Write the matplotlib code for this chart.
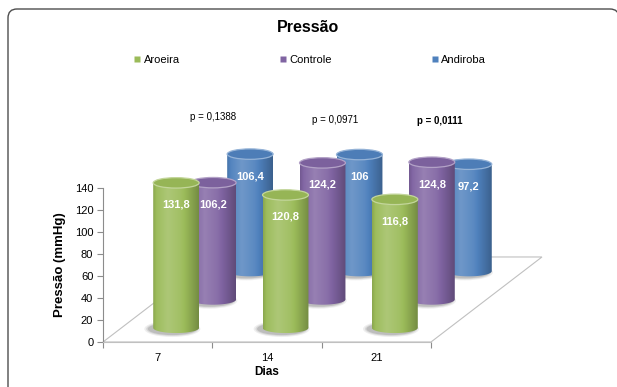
import numpy as np
import matplotlib
matplotlib.use("Agg")
import matplotlib.pyplot as plt
from matplotlib.patches import Ellipse, Polygon, PathPatch
from matplotlib.path import Path
from matplotlib.lines import Line2D
import matplotlib.colors as mcolors

plt.rcParams['font.family'] = ['Liberation Sans', 'DejaVu Sans']

# ---------------- data ----------------
title = "Pressão"
days = ["7", "14", "21"]
series_names = ["Aroeira", "Controle", "Andiroba"]
aroeira = [131.8, 120.8, 116.8]
controle = [106.2, 124.2, 124.8]
andiroba = [106.4, 106.0, 97.2]
p_values = ["p = 0,1388", "p = 0,0971", "p = 0,0111"]
p_bold = [False, False, True]
y_ticks = [0, 20, 40, 60, 80, 100, 120, 140]
xlabel = "Dias"
ylabel = "Pressão (mmHg)"

series_values = [aroeira, controle, andiroba]
colors = ["#9BBB59", "#8064A2", "#4F81BD"]

# ---------------- style / layout ----------------
W, H = 617, 387
fig = plt.figure(figsize=(W / 100, H / 100), dpi=100)
fig.patch.set_facecolor("white")

ax = fig.add_axes([103 / W, (H - 342) / H, 328 / W, 154 / H])
ax.set_facecolor("none")

DEPTH_X = 1.015   # depth direction in category units
DEPTH_Y = 77.3    # depth direction in value units
BAR_W = 0.42      # cylinder diameter in category units
ELL_H = 9.5       # ellipse height in value units
LABEL_DROP = 20.0

def shade(color, f):
    rgb = np.array(mcolors.to_rgb(color))
    if f >= 1:
        return rgb + (1 - rgb) * (f - 1)
    return rgb * f

def gradient_row(color, n=64):
    t = np.linspace(0, 1, n)
    f = np.interp(t, [0, 0.08, 0.32, 0.6, 0.88, 1.0],
                  [0.9, 1.03, 1.18, 1.07, 0.85, 0.75])
    return np.array([shade(color, fi) for fi in f])[None, :, :]

floor_col = "#c0c0c0"
floor = Polygon([(0, 0), (3, 0), (3 + DEPTH_X, DEPTH_Y), (DEPTH_X, DEPTH_Y)],
                closed=True, facecolor="white", edgecolor=floor_col, lw=0.8,
                clip_on=False, zorder=1)
ax.add_patch(floor)

n_s = len(series_values)
for s in range(n_s - 1, -1, -1):
    vals = series_values[s]
    col = colors[s]
    frac = (s + 0.5) / n_s
    z = 10 + (n_s - s) * 5
    for i, v in enumerate(vals):
        cx = i + 0.5 + frac * DEPTH_X
        base = frac * DEPTH_Y
        top = base + v
        x0, x1 = cx - BAR_W / 2, cx + BAR_W / 2
        # soft shadow
        for k, a in zip([1.55, 1.35, 1.18], [0.10, 0.15, 0.22]):
            ax.add_patch(Ellipse((cx - 0.035, base - 1.0), BAR_W * (1 + (k - 1) * 0.4),
                                 ELL_H * k, facecolor="#606060", edgecolor="none",
                                 alpha=a, clip_on=False, zorder=z - 1))
        # body clip path
        t = np.linspace(np.pi, 2 * np.pi, 60)
        bx = cx + BAR_W / 2 * np.cos(t)
        by = base + ELL_H / 2 * np.sin(t)
        verts = [(x0, top)] + list(zip(bx, by)) + [(x1, top), (x0, top)]
        clip = PathPatch(Path(verts, closed=True), transform=ax.transData,
                         facecolor="none", edgecolor="none")
        im = ax.imshow(gradient_row(col), extent=[x0, x1, base - ELL_H, top],
                       aspect="auto", interpolation="bilinear", zorder=z,
                       origin="lower")
        im.set_clip_path(clip)
        im.set_clip_box(fig.bbox)
        # top ellipse
        ax.add_patch(Ellipse((cx, top), BAR_W, ELL_H,
                             facecolor=shade(col, 0.97),
                             edgecolor=shade(col, 1.4), lw=0.9,
                             clip_on=False, zorder=z + 1))
        # value label
        ax.text(cx, top - LABEL_DROP, f"{v:g}".replace(".", ","),
                ha="center", va="center", color="white", fontsize=8,
                fontweight="bold", zorder=z + 2, clip_on=False)

ax.set_xlim(0, 3)
ax.set_ylim(0, 140)
ax.set_aspect("auto")

for sp in ["top", "right"]:
    ax.spines[sp].set_visible(False)
ax.spines["left"].set_color("#8c8c8c")
ax.spines["bottom"].set_color(floor_col)
ax.spines["left"].set_linewidth(0.8)
ax.spines["bottom"].set_linewidth(0.8)

ax.set_yticks(y_ticks)
ax.set_yticklabels([str(v) for v in y_ticks])
ax.tick_params(axis="y", length=4, width=0.8, color="#8c8c8c", labelsize=8, pad=3)
ax.set_xticks([0, 1, 2, 3])
ax.set_xticklabels([])
ax.tick_params(axis="x", which="major", length=4, width=0.8, color="#8c8c8c")
ax.set_xticks([0.5, 1.5, 2.5], minor=True)
ax.set_xticklabels(days, minor=True)
ax.tick_params(axis="x", which="minor", length=0, labelsize=8, pad=8)

ax.set_xlabel(xlabel, fontsize=8.5, fontweight="bold", labelpad=2)
ax.set_ylabel(ylabel, fontsize=9.5, fontweight="bold", labelpad=6)

fig.text(308 / W, 1 - 27 / H, title, ha="center", va="center",
         fontsize=11.5, fontweight="bold")

handles = [Line2D([], [], marker="s", linestyle="none", markersize=4,
                  markerfacecolor=c, markeredgecolor="none") for c in colors]
fig.legend(handles, series_names, loc="center", bbox_to_anchor=(310 / W, 1 - 60 / H),
           ncol=3, frameon=False, fontsize=8, handlelength=0.6,
           handletextpad=0.25, columnspacing=9.0)

p_pos = [(213, 117), (335, 120), (440, 121)]
for (px, py), txt, b in zip(p_pos, p_values, p_bold):
    fig.text(px / W, 1 - py / H, txt, ha="center", va="center", fontsize=7,
             fontweight="bold" if b else "normal")

# outer chart-area border (left and top edges, rounded corners), in inches
r = 0.09
lx, ty, rx, by_ = 0.08, (H - 9) / 100, (W + 2) / 100, -0.1
border_path = Path(
    [(lx, by_), (lx, ty - r), (lx, ty), (lx + r, ty), (rx - r, ty), (rx, ty), (rx, ty - r)],
    [Path.MOVETO, Path.LINETO, Path.CURVE3, Path.CURVE3, Path.LINETO, Path.CURVE3, Path.CURVE3])
fig.patches.append(PathPatch(border_path, transform=fig.dpi_scale_trans,
                             facecolor="none", edgecolor="#4d4d4d", lw=1.0))

fig.savefig("out.png", dpi=100)
